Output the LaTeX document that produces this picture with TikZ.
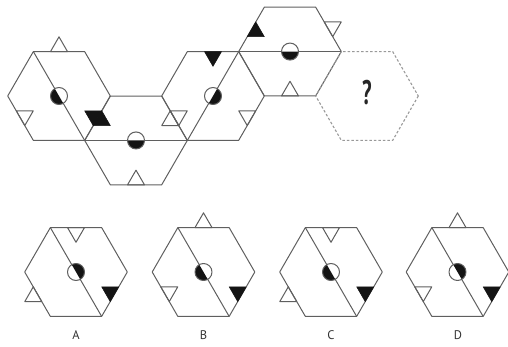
\documentclass[tikz,border=0pt]{standalone}
\usepackage{graphicx}
\usepackage{fontspec}
\setmainfont{PT Sans}
\usetikzlibrary{calc}
\definecolor{ln}{RGB}{95,95,95}
\definecolor{ink}{RGB}{20,20,20}
\tikzset{
  ln/.style={draw=ln, line width=1pt, line join=round},
  wtri/.style={ln, fill=white},
  btri/.style={fill=ink, draw=ink, line width=0.6pt, line join=round},
  dashhex/.style={draw=black!40, line width=1.1pt, dash pattern=on 2.5pt off 2pt},
  lab/.style={font=\fontsize{12.5}{13}\selectfont, text=black!80, inner sep=0pt}
}
% #1 centre, #2 angle of edge midpoint, #3 +1 outward / -1 inward, #4 style
\newcommand\edgetri[4]{%
  \path[#4] ($(#1)+(#2:44.43)+(#2+90:8.5)$) -- ($(#1)+(#2:44.43)+(#2-90:8.5)$)
    -- ($(#1)+(#2:{44.43+(#3)*14.72})$) -- cycle;}
\newcommand\hexoutline[2]{%
  \path[#2] (#1) ++(0:51.3) -- ++(120:51.3) -- ++(180:51.3) -- ++(240:51.3)
    -- ++(300:51.3) -- ++(0:51.3) -- cycle;}
% #1 centre, #2 angle of first diagonal end
\newcommand\diag[2]{%
  \draw[ln] ($(#1)+(#2:51.3)$) -- ($(#1)+(#2+180:51.3)$);}
% #1 centre, #2 direction of the black half
\newcommand\halfdot[2]{%
  \fill[white] (#1) circle[radius=8.5];
  \fill[ink] ($(#1)+(#2-90:8.5)$) arc[start angle=#2-90, end angle=#2+90, radius=8.5] -- cycle;
  \draw[ln] (#1) circle[radius=8.5];}
\begin{document}
\begin{tikzpicture}[x=1pt, y=-1pt]
\useasboundingbox (0,0) rectangle (508,347);
\coordinate (h1) at (59,96);
\coordinate (h2) at (136,140.45);
\coordinate (h3) at (213,96);
\coordinate (h4) at (290,51.55);
\coordinate (h5) at (367,96);
\coordinate (oa) at (76,272);
\coordinate (ob) at (203.5,272);
\coordinate (oc) at (331,272);
\coordinate (od) at (457.5,272);

% white triangles of the top row
\edgetri{h1}{270}{1}{wtri}
\edgetri{h1}{150}{-1}{wtri}
\edgetri{h2}{330}{-1}{wtri}
\edgetri{h2}{90}{-1}{wtri}
\edgetri{h3}{150}{-1}{wtri}
\edgetri{h3}{30}{-1}{wtri}
\edgetri{h4}{330}{1}{wtri}
\edgetri{h4}{90}{-1}{wtri}

% hexagons of the top row
\hexoutline{h1}{ln}
\hexoutline{h2}{ln}
\hexoutline{h3}{ln}
\hexoutline{h4}{ln}
\hexoutline{h5}{dashhex}
\diag{h1}{240}
\diag{h2}{180}
\diag{h3}{120}
\diag{h4}{180}

% black triangles of the top row
\edgetri{h1}{30}{-1}{btri}
\edgetri{h2}{210}{-1}{btri}
\edgetri{h3}{270}{-1}{btri}
\edgetri{h4}{210}{-1}{btri}

\halfdot{h1}{150}
\halfdot{h2}{90}
\halfdot{h3}{30}
\halfdot{h4}{90}
\node[inner sep=0pt, text=black!85, font=\fontsize{34}{34}\selectfont\bfseries] (q) at (367,93) {\scalebox{0.62}[1]{?}};

% options
\edgetri{oa}{270}{-1}{wtri}
\edgetri{oa}{150}{1}{wtri}
\edgetri{ob}{270}{1}{wtri}
\edgetri{ob}{150}{-1}{wtri}
\edgetri{oc}{270}{-1}{wtri}
\edgetri{oc}{150}{1}{wtri}
\edgetri{od}{270}{1}{wtri}
\edgetri{od}{150}{-1}{wtri}
\hexoutline{oa}{ln}
\hexoutline{ob}{ln}
\hexoutline{oc}{ln}
\hexoutline{od}{ln}
\diag{oa}{240}
\diag{ob}{240}
\diag{oc}{240}
\diag{od}{240}
\edgetri{oa}{30}{-1}{btri}
\edgetri{ob}{30}{-1}{btri}
\edgetri{oc}{30}{-1}{btri}
\edgetri{od}{30}{-1}{btri}
\halfdot{oa}{330}
\halfdot{ob}{150}
\halfdot{oc}{150}
\halfdot{od}{330}

\node[lab] (la) at (76,335) {A};
\node[lab] (lb) at (203.5,335) {B};
\node[lab] (lc) at (331,335) {C};
\node[lab] (ld) at (458,335) {D};
\end{tikzpicture}
\end{document}
